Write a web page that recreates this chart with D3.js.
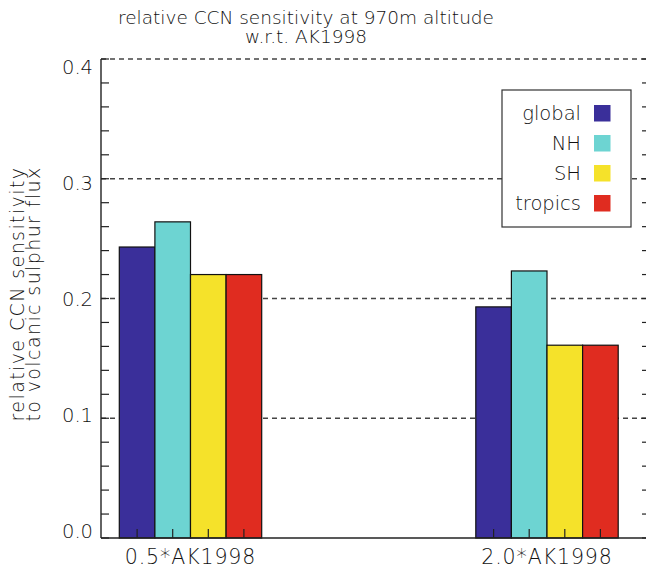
<!DOCTYPE html>
<html>
<head>
<meta charset="utf-8">
<script src="https://cdn.jsdelivr.net/npm/d3@7"></script>
<style>
  body { margin: 0; background: #fff; }
  text { font-family: "DejaVu Sans", sans-serif; font-weight: 200; fill: #111; }
</style>
</head>
<body>
<div id="chart"></div>
<script>
// Chart data
var groups = ["0.5*AK1998", "2.0*AK1998"],
  regions = ["global", "NH", "SH", "tropics"],
  globalVals = [0.243, 0.193],
  nhVals = [0.264, 0.223],
  shVals = [0.220, 0.161],
  tropicsVals = [0.220, 0.161],
  yTicks = [0.0, 0.1, 0.2, 0.3, 0.4],
  titleLines = ["relative CCN sensitivity at 970m altitude", "w.r.t. AK1998"],
  yTitleLines = ["relative CCN sensitivity", "to volcanic sulphur flux"];

var colors = ["#3a2f9a", "#6dd4d2", "#f5e22a", "#e02c20"];
var series = [globalVals, nhVals, shVals, tropicsVals];

// Placement
var W = 646, H = 568,
  pLeft = 101, pRight = 650, pTop = 59, pBottom = 538;

var svg = d3.select("#chart").append("svg")
  .attr("width", W)
  .attr("height", H);

// scales
var y = d3.scaleLinear().domain([0, 0.4]).range([pBottom, pTop]);
var yLab = d3.scaleLinear().domain([0, 0.4]).range([538, 74]); // label baselines
var x0 = d3.scalePoint().domain(groups).range([190.5, 547]);
var x1 = d3.scaleBand().domain(regions).range([-71.2, 71.2]);

// dashed grid
svg.append("g").selectAll("line")
  .data(yTicks.filter(function(d) { return d > 0; }))
  .enter().append("line")
  .attr("x1", pLeft).attr("x2", pRight)
  .attr("y1", function(d) { return y(d); })
  .attr("y2", function(d) { return y(d); })
  .attr("stroke", "#444")
  .attr("stroke-width", 1.3)
  .attr("stroke-dasharray", "5,4");

// bars
var bars = [];
series.forEach(function(s, i) {
  s.forEach(function(v, j) { bars.push({g: groups[j], r: regions[i], v: v, c: colors[i]}); });
});

svg.append("g").selectAll("rect")
  .data(bars)
  .enter().append("rect")
  .attr("x", function(d) { return x0(d.g) + x1(d.r); })
  .attr("width", x1.bandwidth())
  .attr("y", function(d) { return y(d.v); })
  .attr("height", function(d) { return y(0) - y(d.v); })
  .attr("fill", function(d) { return d.c; })
  .attr("stroke", "#111")
  .attr("stroke-width", 1.2);

// x ticks at bar centres
svg.append("g").selectAll("line")
  .data(bars)
  .enter().append("line")
  .attr("x1", function(d) { return x0(d.g) + x1(d.r) + x1.bandwidth() / 2; })
  .attr("x2", function(d) { return x0(d.g) + x1(d.r) + x1.bandwidth() / 2; })
  .attr("y1", pBottom).attr("y2", pBottom - 9)
  .attr("stroke", "#222")
  .attr("stroke-width", 1.2);

// frame: left and bottom solid
svg.append("line").attr("x1", pLeft).attr("x2", pLeft).attr("y1", pTop).attr("y2", pBottom)
  .attr("stroke", "#222").attr("stroke-width", 1.4);
svg.append("line").attr("x1", pLeft).attr("x2", pRight).attr("y1", pBottom).attr("y2", pBottom)
  .attr("stroke", "#222").attr("stroke-width", 1.4);

// y minor/major ticks on both sides
var minor = d3.range(0, 0.4001, 0.02);
var tk = svg.append("g");
tk.selectAll(".tl").data(minor).enter().append("line")
  .attr("x1", pLeft).attr("x2", pLeft + 8)
  .attr("y1", function(d) { return y(d); }).attr("y2", function(d) { return y(d); })
  .attr("stroke", "#222").attr("stroke-width", 1.2);
tk.selectAll(".tr").data(minor).enter().append("line")
  .attr("x1", pRight - 8).attr("x2", pRight)
  .attr("y1", function(d) { return y(d); }).attr("y2", function(d) { return y(d); })
  .attr("stroke", "#222").attr("stroke-width", 1.2);

// y tick labels
svg.append("g").selectAll("text")
  .data(yTicks)
  .enter().append("text")
  .attr("x", 93)
  .attr("y", function(d) { return yLab(d); })
  .attr("text-anchor", "end")
  .attr("font-size", 19.5)
  .text(function(d) { return d3.format(".1f")(d); });

// x labels
svg.append("g").selectAll("text")
  .data(groups)
  .enter().append("text")
  .attr("x", function(d) { return x0(d); })
  .attr("y", 564)
  .attr("text-anchor", "middle")
  .attr("font-size", 20.5)
  .attr("letter-spacing", 0.9)
  .text(function(d) { return d; });

// title
svg.append("g").selectAll("text")
  .data(titleLines)
  .enter().append("text")
  .attr("x", 306)
  .attr("y", function(d, i) { return 24 + i * 19; })
  .attr("text-anchor", "middle")
  .attr("font-size", 18.5)
  .text(function(d) { return d; });

// y axis title
svg.append("g").selectAll("text")
  .data(yTitleLines)
  .enter().append("text")
  .attr("transform", function(d, i) { return "translate(" + (24 + i * 16) + ",294)rotate(-90)"; })
  .attr("text-anchor", "middle")
  .attr("font-size", 19)
  .attr("letter-spacing", 1.4)
  .text(function(d) { return d; });

// legend
var legend = svg.append("g");
legend.append("rect")
  .attr("x", 502).attr("y", 90)
  .attr("width", 129).attr("height", 137)
  .attr("fill", "#fff")
  .attr("stroke", "#333")
  .attr("stroke-width", 1.2);

var items = legend.selectAll(".item")
  .data(regions)
  .enter().append("g")
  .attr("transform", function(d, i) { return "translate(0," + (113 + i * 30) + ")"; });

items.append("rect")
  .attr("x", 594).attr("y", -8)
  .attr("width", 16.5).attr("height", 16.5)
  .attr("fill", function(d, i) { return colors[i]; });

items.append("text")
  .attr("x", 581).attr("y", 7)
  .attr("text-anchor", "end")
  .attr("font-size", 19.5)
  .text(function(d) { return d; });
</script>
</body>
</html>
